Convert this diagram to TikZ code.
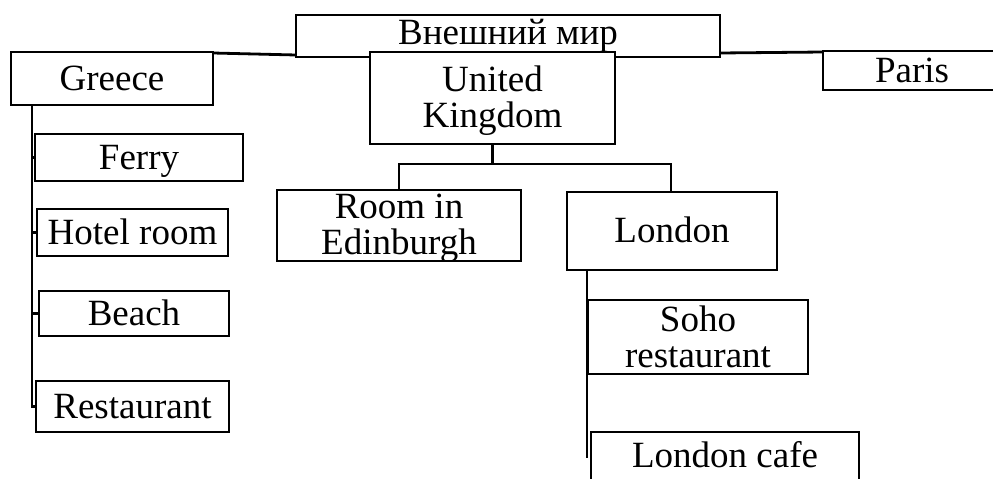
\documentclass[tikz,border=0pt]{standalone}
\usepackage{fontspec}
\setmainfont{Liberation Serif}
\begin{document}
\begin{tikzpicture}[x=1pt,y=-1pt,
  every node/.style={font=\fontsize{37}{36}\selectfont},
  box/.style={draw,line width=2.8pt,fill=white,inner sep=0pt,outer sep=0pt,align=center},
  one/.style={text height=27pt,text depth=4pt},
  conn/.style={line width=2.8pt}]
\path[use as bounding box] (0,0) rectangle (993,479);
\clip (0,0) rectangle (993,479);
% top-level box (frame first, covered by UK box)
\node[box,minimum width=424pt,minimum height=42pt] (world) at (508,36) {};
\node[box,minimum width=245pt,minimum height=92pt,text depth=2pt] (uk) at (492.5,98) {United\\Kingdom};
\node[one] at (508,33) {Внешний мир};
\node[box,one,minimum width=202pt,minimum height=53pt] (greece) at (112,78.5) {Greece};
\node[box,one,minimum width=178pt,minimum height=39pt] (paris) at (912,70.5) {Paris};
% Greece children
\node[box,one,minimum width=208pt,minimum height=47pt] (ferry) at (139,157.5) {Ferry};
\node[box,one,minimum width=191pt,minimum height=47pt] (hotel) at (132.5,232.5) {Hotel room};
\node[box,one,minimum width=190pt,minimum height=45pt] (beach) at (134,313.5) {Beach};
\node[box,one,minimum width=193pt,minimum height=51pt] (rest) at (132.5,406.5) {Restaurant};
% UK children
\node[box,minimum width=244pt,minimum height=71pt,text depth=2pt] (edin) at (399,225.5) {Room in\\Edinburgh};
\node[box,one,minimum width=210pt,minimum height=78pt] (london) at (672,231) {London};
% London children
\node[box,minimum width=220pt,minimum height=74pt] (soho) at (698,337) {Soho\\restaurant};
\node[box,one,minimum width=268pt,minimum height=48pt] (cafe) at (725,456) {London cafe};
% connectors
\draw[conn] ([yshift=-1pt]greece.north east) -- ([yshift=2pt]world.south west);
\draw[conn] ([yshift=4pt]world.south east) -- ([yshift=-1pt]paris.north west);
\coordinate (gt) at (32,105);
\draw[conn] (gt) |- (rest.west);
\draw[conn] (ferry.west) -- (ferry.west -| gt);
\draw[conn] (hotel.west) -- (hotel.west -| gt);
\draw[conn] (beach.west) -- (beach.west -| gt);
\coordinate (ukj) at (492.5,164);
\draw[conn] (uk.south) -- (ukj);
\draw[conn] (ukj) -| (edin.north);
\draw[conn] (ukj) -| ([xshift=-1pt]london.north);
\coordinate (lt) at (587,270);
\coordinate (lb) at (587,458);
\draw[conn] (lt) -- (lb);
\end{tikzpicture}
\end{document}
